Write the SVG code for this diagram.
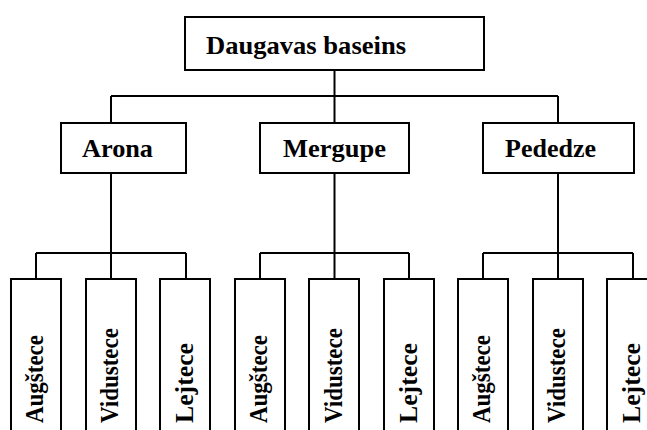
<svg xmlns="http://www.w3.org/2000/svg" width="647" height="430" viewBox="0 0 647 430">
<style>
.box{fill:#fff;stroke:#000;stroke-width:2}
.ln{fill:none;stroke:#000;stroke-width:2}
.t{font-family:"Liberation Serif","Times New Roman",serif;font-weight:bold;font-size:26px;fill:#000}
.v{font-family:"Liberation Serif","Times New Roman",serif;font-weight:bold;font-size:25px;fill:#000}
</style>
<rect width="647" height="430" fill="#fff"/>
<g id="connectors" class="ln">
<path d="M334.5 70V96M111 96H558M111 96V123M334.5 96V123M558 96V123"/>
<path d="M111 173V253M36 253H186M36 253V279M111 253V279M186 253V279"/>
<path d="M334.5 173V253M260 253H409M260 253V279M334.5 253V279M409 253V279"/>
<path d="M558 173V253M483 253H633M483 253V279M558 253V279M633 253V279"/>
</g>
<g id="root"><rect class="box" x="185" y="17" width="299" height="53"/><text class="t" x="206" y="54" textLength="200" lengthAdjust="spacingAndGlyphs">Daugavas baseins</text></g>
<g id="arona"><rect class="box" x="61" y="123" width="125" height="50"/><text class="t" x="82" y="157" textLength="71" lengthAdjust="spacingAndGlyphs">Arona</text></g>
<g id="mergupe"><rect class="box" x="260" y="123" width="149" height="50"/><text class="t" x="283" y="157" textLength="103" lengthAdjust="spacingAndGlyphs">Mergupe</text></g>
<g id="pededze"><rect class="box" x="483" y="123" width="151" height="50"/><text class="t" x="505" y="157" textLength="91" lengthAdjust="spacingAndGlyphs">Pededze</text></g>
<g id="arona-augstece"><rect class="box" x="11" y="279" width="50" height="190"/><text class="v" transform="translate(43,423) rotate(-90)" textLength="88" lengthAdjust="spacingAndGlyphs">Augštece</text></g>
<g id="arona-vidustece"><rect class="box" x="86" y="279" width="50" height="190"/><text class="v" transform="translate(118,423) rotate(-90)" textLength="95" lengthAdjust="spacingAndGlyphs">Vidustece</text></g>
<g id="arona-lejtece"><rect class="box" x="160" y="279" width="50" height="190"/><text class="v" transform="translate(193,423) rotate(-90)" textLength="80" lengthAdjust="spacingAndGlyphs">Lejtece</text></g>
<g id="mergupe-augstece"><rect class="box" x="235" y="279" width="50" height="190"/><text class="v" transform="translate(267,423) rotate(-90)" textLength="88" lengthAdjust="spacingAndGlyphs">Augštece</text></g>
<g id="mergupe-vidustece"><rect class="box" x="309" y="279" width="50" height="190"/><text class="v" transform="translate(342,423) rotate(-90)" textLength="95" lengthAdjust="spacingAndGlyphs">Vidustece</text></g>
<g id="mergupe-lejtece"><rect class="box" x="384" y="279" width="50" height="190"/><text class="v" transform="translate(417,423) rotate(-90)" textLength="80" lengthAdjust="spacingAndGlyphs">Lejtece</text></g>
<g id="pededze-augstece"><rect class="box" x="458" y="279" width="50" height="190"/><text class="v" transform="translate(490,423) rotate(-90)" textLength="88" lengthAdjust="spacingAndGlyphs">Augštece</text></g>
<g id="pededze-vidustece"><rect class="box" x="533" y="279" width="50" height="190"/><text class="v" transform="translate(565,423) rotate(-90)" textLength="95" lengthAdjust="spacingAndGlyphs">Vidustece</text></g>
<g id="pededze-lejtece"><rect class="box" x="607" y="279" width="50" height="190"/><text class="v" transform="translate(640,423) rotate(-90)" textLength="80" lengthAdjust="spacingAndGlyphs">Lejtece</text></g>
</svg>
